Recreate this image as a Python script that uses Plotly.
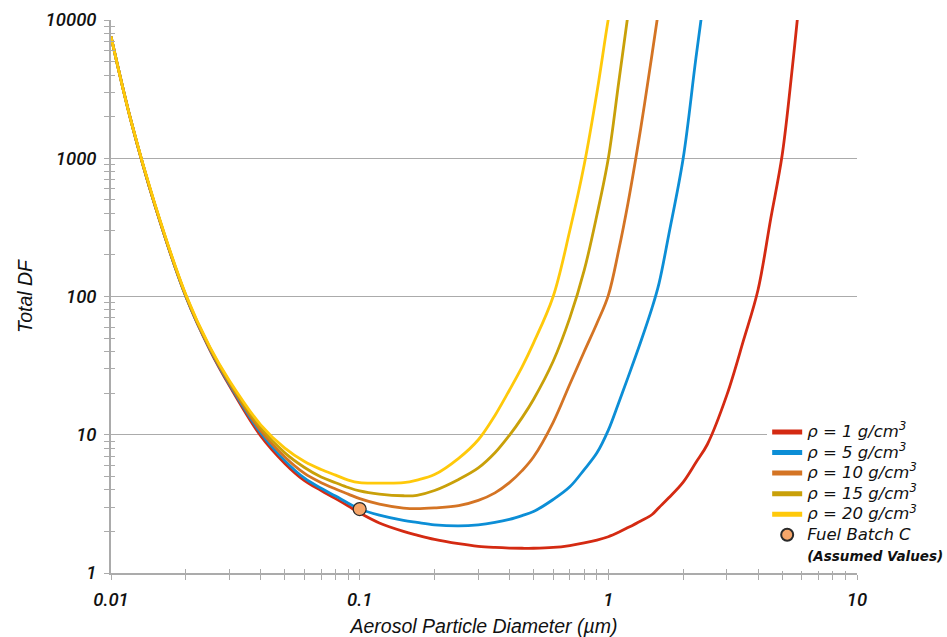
import plotly.graph_objects as go

# ---------------- data ----------------
diameter_um = [0.01, 0.012, 0.015, 0.02, 0.025, 0.03, 0.04, 0.05, 0.06, 0.07, 0.08, 0.09,
               0.1, 0.12, 0.15, 0.17, 0.2, 0.25, 0.3, 0.35, 0.4, 0.45, 0.5, 0.6, 0.7, 0.8,
               0.9, 1.0, 1.1, 1.2, 1.35, 1.5, 1.6, 1.75, 2.0, 2.25, 2.5, 3.0, 3.5, 4.0,
               4.5, 5.0, 5.5, 6.0]

df_rho1 = [7600, 1900, 460, 100, 41, 22.5, 9.8, 6.2, 4.65, 3.95, 3.45, 3.05,
           2.72, 2.3, 2.0, 1.88, 1.75, 1.63, 1.56, 1.53, 1.515, 1.51, 1.51, 1.53, 1.58, 1.65,
           1.73, 1.83, 1.97, 2.13, 2.38, 2.65, 2.98, 3.5, 4.55, 6.3, 8.5, 19.5, 48.5, 112,
           367, 1050, 4600, 21500]

df_rho5 = [7600, 1900, 460, 100, 41.5, 23, 10.3, 6.5, 4.85, 4.1, 3.6, 3.2,
           2.9, 2.62, 2.4, 2.32, 2.23, 2.19, 2.23, 2.32, 2.44, 2.6, 2.78, 3.4, 4.2, 5.6,
           7.4, 10.8, 17, 26, 47, 83, 125, 280, 1000, 5300, 22000, None, None, None,
           None, None, None, None]

df_rho10 = [7600, 1900, 460, 101, 42, 23.5, 10.7, 6.9, 5.25, 4.5, 4.05, 3.72,
            3.45, 3.15, 2.95, 2.92, 2.96, 3.07, 3.35, 3.8, 4.5, 5.5, 6.9, 12.3, 23.2, 40,
            64, 102, 215, 475, 1650, 5700, 12500, None, None, None, None, None, None, None,
            None, None, None, None]

df_rho15 = [7600, 1900, 465, 102, 42.5, 24, 11.2, 7.4, 5.8, 4.95, 4.5, 4.15,
            3.92, 3.72, 3.62, 3.65, 3.95, 4.75, 5.75, 7.4, 9.9, 13.3, 18, 34, 70, 155,
            390, 1000, 3500, 11000, None, None, None, None, None, None, None, None, None, None,
            None, None, None, None]

df_rho20 = [7600, 1900, 470, 103, 43, 24.5, 11.8, 8.0, 6.4, 5.6, 5.1, 4.7,
            4.5, 4.47, 4.5, 4.7, 5.15, 6.75, 9.2, 13.8, 21, 31, 46, 100, 300, 900,
            3000, 10200, 27000, None, None, None, None, None, None, None, None, None, None, None,
            None, None, None, None]

series_names = ["ρ = 1 g/cm<sup>3</sup>", "ρ = 5 g/cm<sup>3</sup>", "ρ = 10 g/cm<sup>3</sup>",
                "ρ = 15 g/cm<sup>3</sup>", "ρ = 20 g/cm<sup>3</sup>"]
series_values = [df_rho1, df_rho5, df_rho10, df_rho15, df_rho20]
series_colors = ["#D42A12", "#0C8ED6", "#D47424", "#C9A009", "#FFC90A"]

fuel_x = [0.1]
fuel_y = [2.9]
fuel_name = "Fuel Batch C"
fuel_note = "(Assumed Values)"

x_tickvals = [0.01, 0.1, 1, 10]
x_ticktext = ["0.01", "0.1", "1", "10"]
y_tickvals = [1, 10, 100, 1000, 10000]
y_ticktext = ["1", "10", "100", "1000", "10000"]
x_minor = [m * d for d in (0.01, 0.1, 1) for m in range(2, 10)]
y_minor = [m * d for d in (1, 10, 100, 1000) for m in range(2, 10)]

# ---------------- figure ----------------
AX = "#ABABAB"
TICKFONT = dict(family="Roboto, Liberation Sans, Arial", size=18.5, color="#111111",
                style="italic", weight=500)
TITLEFONT = dict(family="Liberation Sans, Arial", size=19.5, color="#111111", style="italic")
CLEAR = "rgba(0,0,0,0)"


def big(txt):
    return "<span style='font-size:16.5px'>" + txt + "</span>"


fig = go.Figure()
for name, vals, col in zip(series_names, series_values, series_colors):
    fig.add_trace(go.Scatter(x=diameter_um, y=vals, mode="lines", name=big(name),
                             line=dict(color=col, width=2.8, shape="spline", smoothing=1.0),
                             connectgaps=False))
fig.add_trace(go.Scatter(x=fuel_x, y=fuel_y, mode="markers", name=big(fuel_name),
                         marker=dict(size=13, color="#F6A66A",
                                     line=dict(color="#2A2A2A", width=1.2))))
# legend caption line under "Fuel Batch C" (transparent symbol)
fig.add_trace(go.Scatter(x=fuel_x, y=fuel_y, mode="markers",
                         name="<span style='font-size:13.5px;font-weight:bold'>" + fuel_note + "</span>",
                         marker=dict(size=1, color=CLEAR, line=dict(width=0, color=CLEAR)),
                         hoverinfo="skip"))
# helper trace for the overlay axes (inside half of the crossing ticks)
fig.add_trace(go.Scatter(x=fuel_x, y=fuel_y, xaxis="x2", yaxis="y2", mode="markers",
                         marker=dict(color=CLEAR), showlegend=False, hoverinfo="skip"))

fig.update_layout(
    width=947, height=637,
    margin=dict(l=111, r=90, t=20, b=64, autoexpand=False),
    paper_bgcolor="white", plot_bgcolor="white",
    showlegend=True,
    legend=dict(x=0.8796, y=0.2826, xanchor="left", yanchor="top",
                bgcolor="white", borderwidth=0, itemsizing="constant",
                font=dict(family="DejaVu Sans, Verdana, sans-serif", size=13.5,
                          color="#111111", style="italic"),
                tracegroupgap=0, itemwidth=30),
    xaxis=dict(type="log", range=[-2, 1], showgrid=False, zeroline=False, automargin=False,
               showline=True, linecolor=AX, linewidth=1.5,
               ticks="outside", ticklen=5, tickcolor=AX, tickwidth=1,
               tickvals=x_tickvals, ticktext=x_ticktext, tickfont=TICKFONT,
               ticklabelstandoff=4,
               minor=dict(tickvals=x_minor, ticks="outside", ticklen=5,
                          tickcolor=AX, tickwidth=1, showgrid=False),
               title=dict(text="Aerosol Particle Diameter (µm)", standoff=9, font=TITLEFONT)),
    yaxis=dict(type="log", range=[0, 4], showgrid=True, gridcolor=AX, gridwidth=1.2,
               zeroline=False, showline=True, linecolor=AX, linewidth=1.5, automargin=False,
               ticks="outside", ticklen=5, tickcolor=AX, tickwidth=1,
               tickvals=y_tickvals, ticktext=y_ticktext, tickfont=TICKFONT,
               ticklabelstandoff=4,
               minor=dict(tickvals=y_minor, ticks="outside", ticklen=5,
                          tickcolor=AX, tickwidth=1, showgrid=False),
               title=dict(text="Total DF", standoff=8, font=TITLEFONT)),
    xaxis2=dict(type="log", range=[-2, 1], overlaying="x", anchor="y", side="bottom",
                showgrid=False, zeroline=False, showline=False, showticklabels=False,
                automargin=False,
                ticks="inside", ticklen=4, tickcolor=AX, tickwidth=1, tickvals=x_tickvals,
                minor=dict(tickvals=x_minor, ticks="inside", ticklen=4, tickcolor=AX,
                           tickwidth=1, showgrid=False)),
    yaxis2=dict(type="log", range=[0, 4], overlaying="y", anchor="x", side="left",
                showgrid=False, zeroline=False, showline=False, showticklabels=False,
                automargin=False,
                ticks="inside", ticklen=4, tickcolor=AX, tickwidth=1, tickvals=y_tickvals,
                minor=dict(tickvals=y_minor, ticks="inside", ticklen=4, tickcolor=AX,
                           tickwidth=1, showgrid=False)),
)

fig.write_html("out.html", config={"displayModeBar": False},
               post_script="document.body.style.margin='0';"
                           "document.documentElement.style.overflow='hidden';")
